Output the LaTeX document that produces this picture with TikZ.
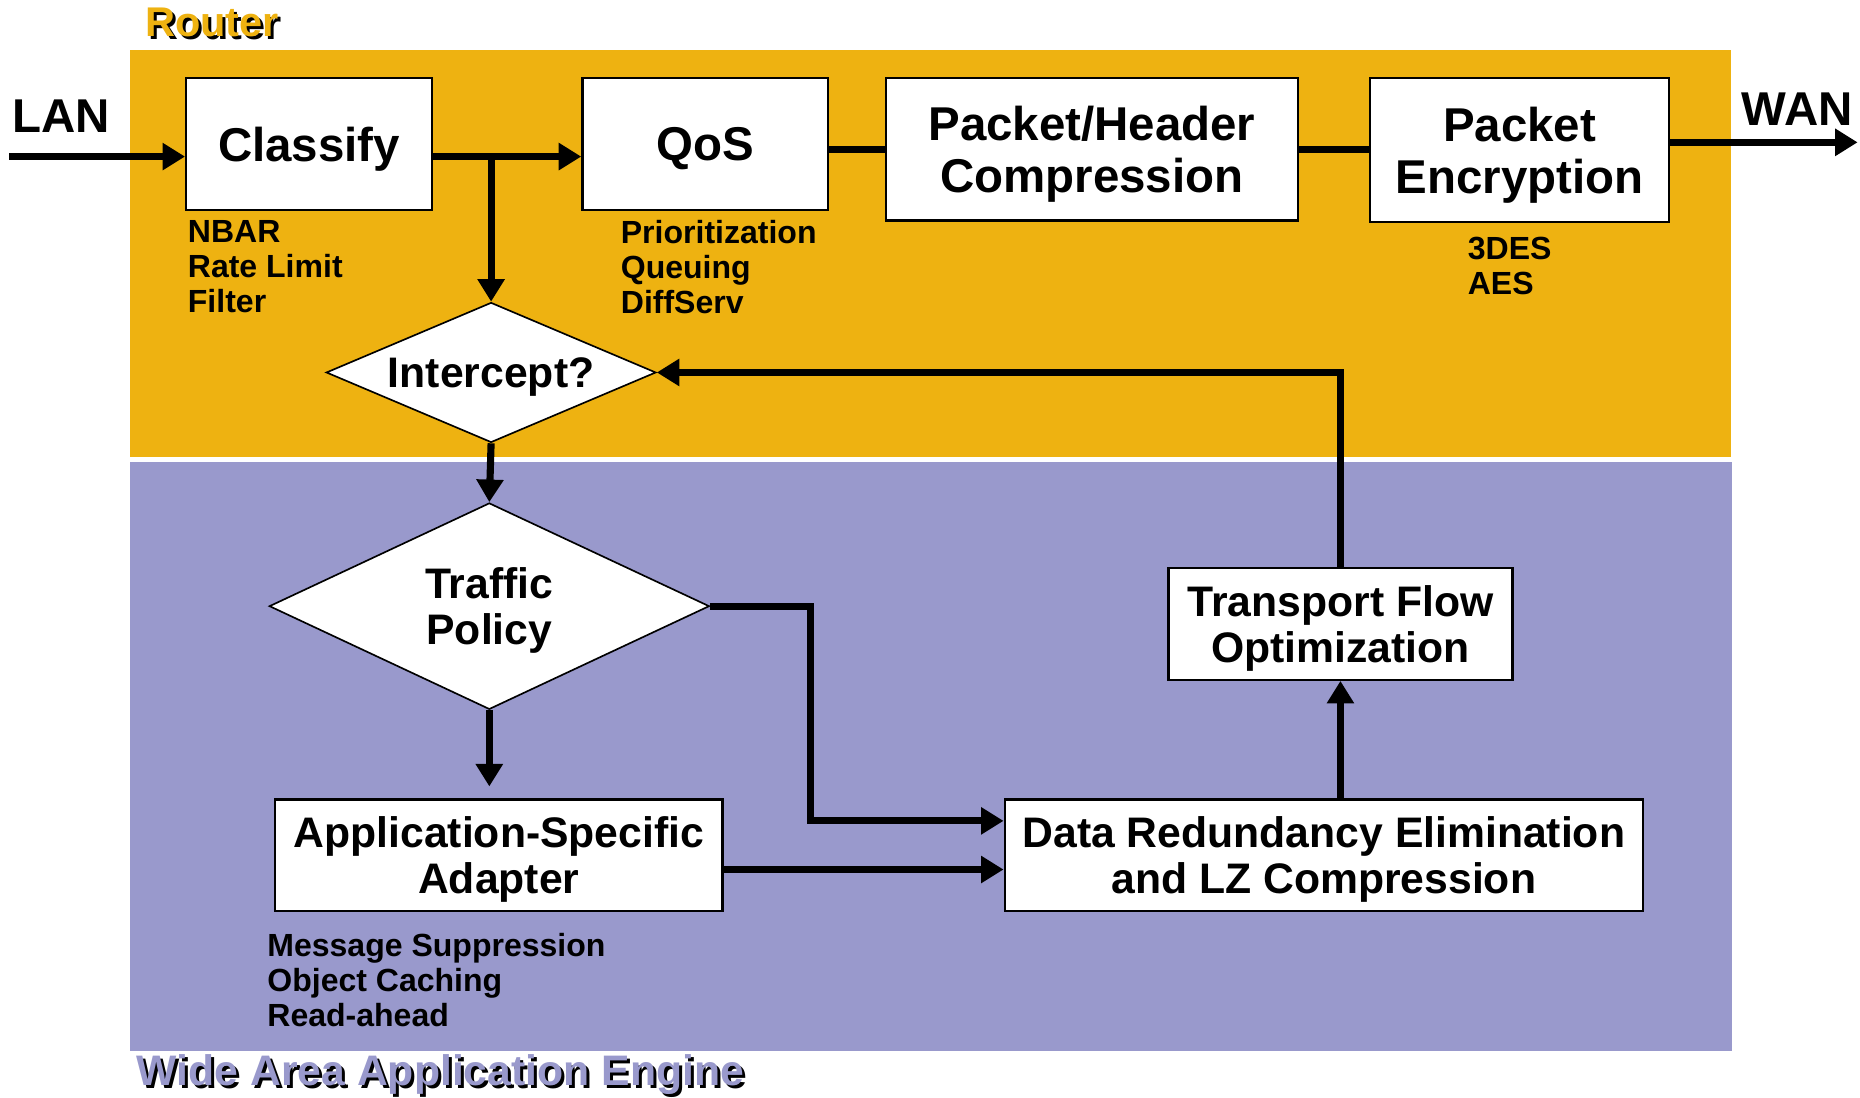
\documentclass[tikz,border=0pt]{standalone}
\usepackage{fontspec}
\setmainfont{Liberation Sans}
\usetikzlibrary{shapes.geometric,arrows.meta}
\definecolor{routergold}{RGB}{238,178,17}
\definecolor{waaeviolet}{RGB}{153,153,204}
\newcommand\setfs[2]{\fontsize{#1}{#2}\selectfont\bfseries}
\tikzset{
  stagebox/.style={draw=black, line width=1pt, fill=white, rectangle,
    inner sep=0pt, align=center, text depth=0pt},
  bigtext/.style={font=\setfs{20pt}{22pt}},
  midtext/.style={font=\setfs{18pt}{19.5pt}},
  decision/.style={draw=black, line width=0.7pt, fill=white, diamond,
    inner sep=0pt, align=center, text depth=0pt, font=\setfs{18pt}{19.5pt}},
  featurelist/.style={anchor=north west, inner sep=0pt, align=left,
    font=\setfs{13.5pt}{14.75pt}},
  flow/.style={line width=3pt, -{Triangle[length=9.5pt,width=11pt]}},
  link/.style={line width=3pt},
  endlabel/.style={anchor=north west, inner sep=0pt, font=\setfs{20pt}{22pt}},
  areatitle/.style={anchor=north west, inner sep=0pt, font=\setfs{18pt}{20pt}},
}
\begin{document}
\begin{tikzpicture}[x=0.5pt, y=-0.5pt]
\useasboundingbox (0,0) rectangle (1568,925);

% the two areas
\fill[routergold] (110,42) rectangle (1459,385.3);
\fill[waaeviolet] (110,389.5) rectangle (1460,886);

% area titles with drop shadow
\node[areatitle, text=black, font=\setfs{17.5pt}{20pt}] (routershadow) at (124.5,8.5) {Router};
\node[areatitle, text=routergold, font=\setfs{17.5pt}{20pt}] (router) at (122,6) {Router};
\node[areatitle, text=black] (waaeshadow) at (117.5,891.5) {Wide Area Application Engine};
\node[areatitle, text=waaeviolet] (waae) at (115,889) {Wide Area Application Engine};

% end points
\node[endlabel] (lan) at (10,84) {LAN};
\node[endlabel] (wan) at (1468,78) {WAN};

% router stages
\node[stagebox, bigtext, minimum width=103.5pt, minimum height=55.5pt] (classify) at (260.5,121.5) {Classify};
\node[stagebox, bigtext, minimum width=103.5pt, minimum height=55.5pt] (qos) at (594.5,121.5) {QoS};
\node[stagebox, bigtext, minimum width=173.5pt, minimum height=60pt] (phc) at (920.5,126) {Packet/Header\\Compression};
\node[stagebox, bigtext, minimum width=126pt, minimum height=60.5pt] (pe) at (1281,126.5) {Packet\\Encryption};

% feature lists
\node[featurelist] (classifyfeat) at (158,185.3) {NBAR\\Rate Limit\\Filter};
\node[featurelist] (qosfeat) at (523,185.3) {Prioritization\\Queuing\\DiffServ};
\node[featurelist] (pefeat) at (1237,199.3) {3DES\\AES};
\node[featurelist] (asafeat) at (225,786.3) {Message Suppression\\Object Caching\\Read-ahead};

% decisions
\node[decision, shape aspect=2.36, minimum width=139pt, minimum height=59pt] (intercept) at (414,314) {Intercept?};
\node[decision, shape aspect=2.13, minimum width=185.5pt, minimum height=87pt] (tp) at (412.5,511) {Traffic\\Policy};

% engine stages
\node[stagebox, midtext, minimum width=145pt, minimum height=47pt] (tfo) at (1130,526) {Transport Flow\\Optimization};
\node[stagebox, midtext, minimum width=188.5pt, minimum height=47pt] (asa) at (420.5,721) {Application-Specific\\Adapter};
\node[stagebox, midtext, minimum width=269pt, minimum height=47pt] (dre) at (1116,721) {Data Redundancy Elimination\\and LZ Compression};

% connectors
\coordinate (lanin) at (8,132);
\coordinate (wanout) at (1566,120);
\coordinate (tpbend) at (683,692);

\draw[flow] (lanin) -- (lanin -| classify.west);
\draw[flow] (classify.east |- lanin) -- (qos.west |- lanin);
\draw[flow] (intercept.north |- lanin) -- (intercept.north);
\draw[link] (qos.east |- phc.west) -- (phc.west);
\draw[link] (phc.east) -- (phc.east -| pe.west);
\draw[flow] (pe.east |- wanout) -- (wanout);
\draw[flow] (intercept.south) -- (tp.north);
\draw[flow, shorten >=5pt] (tp.south) -- (tp.south |- asa.north);
\draw[flow] (tp.east) -| (tpbend) -- (tpbend -| dre.west);
\draw[flow] ([yshift=-6pt]asa.east) -- ([yshift=-6pt]asa.east -| dre.west);
\draw[flow] (tfo.south |- dre.north) -- (tfo.south);
\draw[flow] (tfo.north) |- (intercept.east);
\end{tikzpicture}
\end{document}
